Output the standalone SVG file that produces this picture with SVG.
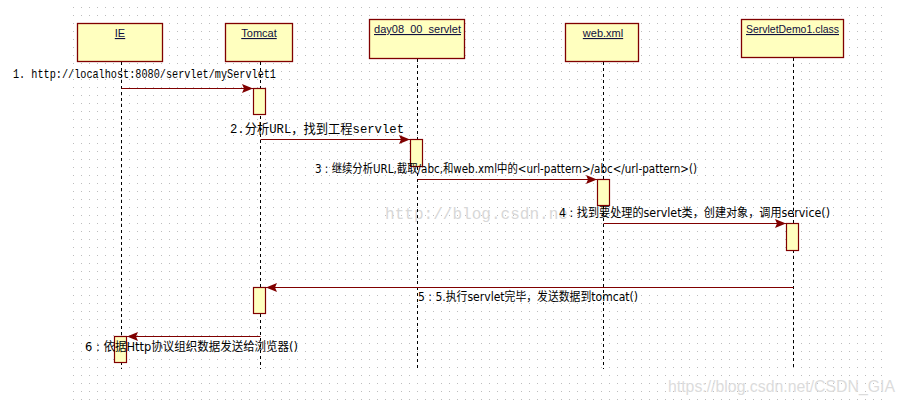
<svg xmlns="http://www.w3.org/2000/svg" width="905" height="404" viewBox="0 0 905 404">
<style>
.obj{fill:#ffffbf;stroke:#800000;stroke-width:1.3}
.act{fill:#ffffbf;stroke:#800000;stroke-width:1.2}
.life{stroke:#000;stroke-width:1;stroke-dasharray:3,3;fill:none}
.msg{stroke:#800000;stroke-width:1.2;fill:none;marker-end:url(#ah)}
.name{font-family:"Liberation Sans",Arial,sans-serif;font-size:11px;fill:#101040;text-decoration:underline}
.mono{font-family:"Liberation Mono","Noto Sans CJK SC",monospace;font-size:13px;fill:#000}
.lbl{font-family:"DejaVu Sans","Noto Sans CJK SC",sans-serif;font-size:12px;fill:#000}
.wm{font-family:"Liberation Mono",monospace;font-size:16px;fill:#d8d8d8}
.wm2{font-family:"Liberation Sans",Arial,sans-serif;font-size:16px;fill:#dcdcdc}
</style>
<defs>
<pattern id="grid" x="73" y="7" width="8" height="8" patternUnits="userSpaceOnUse">
<rect x="0" y="0" width="1" height="1" fill="#bdbdbd"/>
</pattern>
<marker id="ah" markerUnits="userSpaceOnUse" markerWidth="12" markerHeight="10" refX="11" refY="5" orient="auto">
<path d="M0,0.5 L11,5 L0,9.5 L2,5 Z" fill="#800000"/>
</marker>
</defs>
<rect width="905" height="404" fill="#fff"/>
<rect x="73" y="7" width="810" height="393" fill="url(#grid)"/>
<text class="wm" x="385" y="219" textLength="183" lengthAdjust="spacingAndGlyphs">http://blog.csdn.ne</text>
<text class="wm2" x="668" y="392" textLength="227" lengthAdjust="spacingAndGlyphs">https://blog.csdn.net/CSDN_GIA</text>
<g id="lifelines">
<line class="life" x1="121.5" y1="62" x2="121.5" y2="369"/>
<line class="life" x1="260.5" y1="62" x2="260.5" y2="369"/>
<line class="life" x1="417.5" y1="59" x2="417.5" y2="369"/>
<line class="life" x1="603.5" y1="62" x2="603.5" y2="369"/>
<line class="life" x1="793.5" y1="58" x2="793.5" y2="369"/>
</g>
<g id="IE">
<rect class="obj" x="77.5" y="23.5" width="85" height="38"/>
<text class="name" x="120" y="37" text-anchor="middle">IE</text>
<rect class="act" x="114.5" y="336.5" width="12" height="26"/>
</g>
<g id="Tomcat">
<rect class="obj" x="225.5" y="23.5" width="67" height="38"/>
<text class="name" x="259" y="37" text-anchor="middle">Tomcat</text>
<rect class="act" x="253.5" y="88.5" width="12" height="26"/>
<rect class="act" x="253.5" y="287.5" width="12" height="26"/>
</g>
<g id="day08_00_servlet">
<rect class="obj" x="369.5" y="19.5" width="95" height="39"/>
<text class="name" x="374" y="33" textLength="87" lengthAdjust="spacingAndGlyphs">day08_00_servlet</text>
<rect class="act" x="410.5" y="139.5" width="12" height="27"/>
</g>
<g id="web.xml">
<rect class="obj" x="565.5" y="23.5" width="73" height="38"/>
<text class="name" x="603" y="37" text-anchor="middle">web.xml</text>
<rect class="act" x="597.5" y="179.5" width="12" height="26"/>
</g>
<g id="ServletDemo1.class">
<rect class="obj" x="741.5" y="19.5" width="102" height="38"/>
<text class="name" x="746" y="33" textLength="93" lengthAdjust="spacingAndGlyphs">ServletDemo1.class</text>
<rect class="act" x="786.5" y="223.5" width="12" height="27"/>
</g>
<g id="connectors">
<line class="msg" x1="121.5" y1="88.5" x2="253" y2="88.5"/>
<line class="msg" x1="260.5" y1="139.5" x2="410" y2="139.5"/>
<line class="msg" x1="417.5" y1="179.5" x2="597" y2="179.5"/>
<line class="msg" x1="603.5" y1="223.5" x2="786" y2="223.5"/>
<line class="msg" x1="793.5" y1="287.5" x2="266" y2="287.5"/>
<line class="msg" x1="260.5" y1="336.5" x2="127" y2="336.5"/>
</g>
<g id="labels">
<text class="mono" x="13" y="78" textLength="263" lengthAdjust="spacingAndGlyphs">1. http://localhost:8080/servlet/myServlet1</text>
<text class="mono" x="230" y="133" textLength="174" lengthAdjust="spacingAndGlyphs">2.分析URL，找到工程servlet</text>
<text class="lbl" x="315" y="173" textLength="382" lengthAdjust="spacingAndGlyphs">3 : 继续分析URL,截取/abc,和web.xml中的&lt;url-pattern&gt;/abc&lt;/url-pattern&gt;()</text>
<text class="lbl" x="559" y="217" textLength="271" lengthAdjust="spacingAndGlyphs">4 : 找到要处理的servlet类，创建对象，调用service()</text>
<text class="lbl" x="418" y="301" textLength="220" lengthAdjust="spacingAndGlyphs">5 : 5.执行servlet完毕，发送数据到tomcat()</text>
<text class="lbl" x="85" y="351" textLength="213" lengthAdjust="spacingAndGlyphs">6 : 依据Http协议组织数据发送给浏览器()</text>
</g>
</svg>
